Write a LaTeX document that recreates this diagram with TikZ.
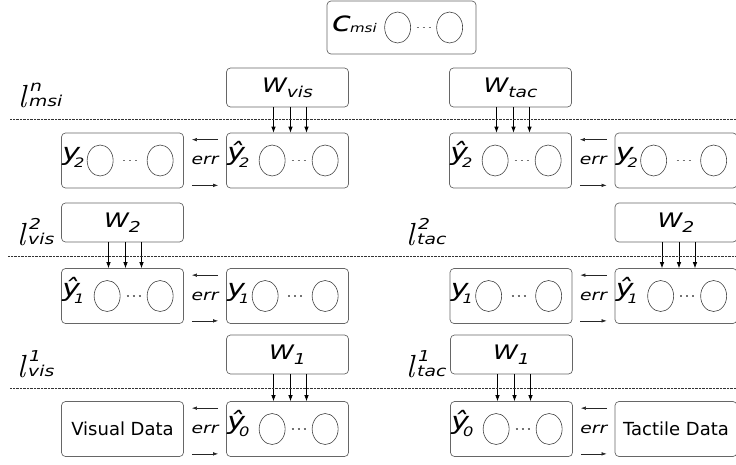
\documentclass[tikz,border=0pt]{standalone}
\usepackage{fontspec}
\setmainfont{DejaVu Sans}
\newfontfamily\lblfont{DejaVu Sans}[FakeStretch=1.25]
\newfontfamily\lfont{Latin Modern Roman}
\usetikzlibrary{shapes.geometric,arrows.meta,calc}
\tikzset{
  layer/.style={draw=black!60, rounded corners=4pt, line width=0.7pt,
    minimum width=122pt, minimum height=55pt, inner sep=0pt},
  wbox/.style={layer, minimum height=39pt},
  unit/.style={ellipse, draw=black!75, line width=0.6pt,
    minimum width=26pt, minimum height=31pt, inner sep=0pt},
  dots/.style={black!55, line width=1.2pt, dash pattern=on 2pt off 4pt},
  sep/.style={black!80, line width=0.5pt, dash pattern=on 0.7pt off 0.7pt},
  errarr/.style={-{Latex[length=5pt,width=3.5pt]}, black!85, line width=0.6pt},
  feed/.style={-{Latex[length=6pt,width=4.5pt]}, line width=0.7pt},
  errlbl/.style={inner sep=0pt, font=\lblfont\itshape\fontsize{15}{15}\selectfont}
}
\newcommand{\sym}[2]{{\lblfont\itshape\fontsize{24}{24}\selectfont #1\kern-6pt\raisebox{-7pt}{\fontsize{13}{13}\selectfont #2}}}
\newcommand{\wt}[1]{{\lblfont\itshape\fontsize{20}{20}\selectfont W\raisebox{-5pt}{\fontsize{15}{15}\selectfont #1}}}
\newcommand{\lvl}[2]{{\lfont\itshape\fontsize{32}{32}\selectfont l}\kern4pt\rlap{\raisebox{16pt}{\lblfont\itshape\fontsize{15}{15}\selectfont #1}}\kern-1pt\raisebox{1pt}{\lblfont\itshape\fontsize{15}{15}\selectfont #2}}

\begin{document}
\begin{tikzpicture}[x=1pt, y=-1pt]
  \useasboundingbox (0,0) rectangle (736,464);
  \clip (0,0) rectangle (736,464);

  \node[layer, minimum width=149pt, minimum height=53pt] (cmsi) at (401.5,27.5) {};
  \node[wbox] (wVis) at (287.5,87.5) {\wt{vis}};
  \node[wbox] (wTac) at (510.5,87.5) {\wt{tac}};
  \node[layer] (yTwoV) at (122.5,160.5) {};
  \node[layer] (yhTwoV) at (287.5,160.5) {};
  \node[layer] (yhTwoT) at (510.5,160.5) {};
  \node[layer] (yTwoT) at (676,160.5) {};
  \node[wbox] (wTwoV) at (122.5,222.5) {\wt{2}};
  \node[wbox] (wTwoT) at (676,222.5) {\wt{2}};
  \node[layer] (yhOneV) at (122.5,296) {};
  \node[layer] (yOneV) at (287.5,296) {};
  \node[layer] (yOneT) at (511,296) {};
  \node[layer] (yhOneT) at (676,296) {};
  \node[wbox] (wOneV) at (287.5,354.5) {\wt{1}};
  \node[wbox] (wOneT) at (511.5,354.5) {\wt{1}};
  \node[layer] (dataV) at (122.5,429) {\fontsize{18}{18}\selectfont Visual Data};
  \node[layer] (yhZeroV) at (287.5,429) {};
  \node[layer] (yhZeroT) at (511.5,429) {};
  \node[layer] (dataT) at (676,429) {\fontsize{18}{18}\selectfont Tactile Data};

  % top layer
  \node[anchor=base west, inner sep=0pt] (cmsi-lab) at ([xshift=5pt, yshift=-4pt]cmsi.west)
    {\lblfont\itshape\fontsize{28}{28}\selectfont c\kern-1pt\raisebox{-1pt}{\fontsize{12}{12}\selectfont msi}};
  \node[unit] (cmsi-a) at ([xshift=71pt]cmsi.west) {};
  \node[unit] (cmsi-b) at ([xshift=123pt]cmsi.west) {};
  \draw[dots] ($(cmsi-a)!0.5!(cmsi-b)$) ++(-7,0) -- ++(15,0);

  \foreach \b/\t/\s/\o in {yTwoV/y/2/39, yhTwoV/ŷ/2/46, yhTwoT/ŷ/2/46,
      yTwoT/y/2/39, yhOneV/ŷ/1/46, yOneV/y/1/39, yOneT/y/1/39,
      yhOneT/ŷ/1/46, yhZeroV/ŷ/0/46, yhZeroT/ŷ/0/46} {
    \node[anchor=base west, inner sep=0pt] (\b-lab) at ([xshift=1pt]\b.west) {\sym{\t}{\s}};
    \node[unit] (\b-a) at ([xshift=\o pt]\b.west) {};
    \node[unit] (\b-b) at ([xshift=99pt]\b.west) {};
    \draw[dots] ($(\b-a)!0.5!(\b-b)$) ++(-7,0) -- ++(15,0);
  }

  \foreach \l/\r in {yTwoV/yhTwoV, yhTwoT/yTwoT, yhOneV/yOneV, yOneT/yhOneT,
      dataV/yhZeroV, yhZeroT/dataT} {
    \draw[errarr] ([xshift=-8pt, yshift=-7pt]\r.north west) -- ([xshift=8pt, yshift=-7pt]\l.north east);
    \draw[errarr] ([xshift=8pt, yshift=3pt]\l.south east) -- ([xshift=-8pt, yshift=3pt]\r.south west);
    \path (\l.east) -- (\r.west) node[midway, errlbl] (\l-err) {err};
  }

  \foreach \w/\y in {wVis/yhTwoV, wTac/yhTwoT, wTwoV/yhOneV, wTwoT/yhOneT,
      wOneV/yhZeroV, wOneT/yhZeroT}
    \foreach \d in {-14,3,19}
      \draw[feed] ([xshift=\d pt]\w.south) -- ([xshift=\d pt]\y.north);

  \draw[sep] (10,119.5) -- (736,119.5);
  \draw[sep] (8,256) -- (736,256);
  \draw[sep] (10,388) -- (736,388);

  \node[anchor=base west, inner sep=0pt] (lMsi) at (18,107) {\lvl{n}{msi}};
  \node[anchor=base west, inner sep=0pt] (lVisTwo) at (17,245) {\lvl{2}{vis}};
  \node[anchor=base west, inner sep=0pt] (lTacTwo) at (406,245) {\lvl{2}{tac}};
  \node[anchor=base west, inner sep=0pt] (lVisOne) at (17,377) {\lvl{1}{vis}};
  \node[anchor=base west, inner sep=0pt] (lTacOne) at (406,377) {\lvl{1}{tac}};
\end{tikzpicture}
\end{document}
